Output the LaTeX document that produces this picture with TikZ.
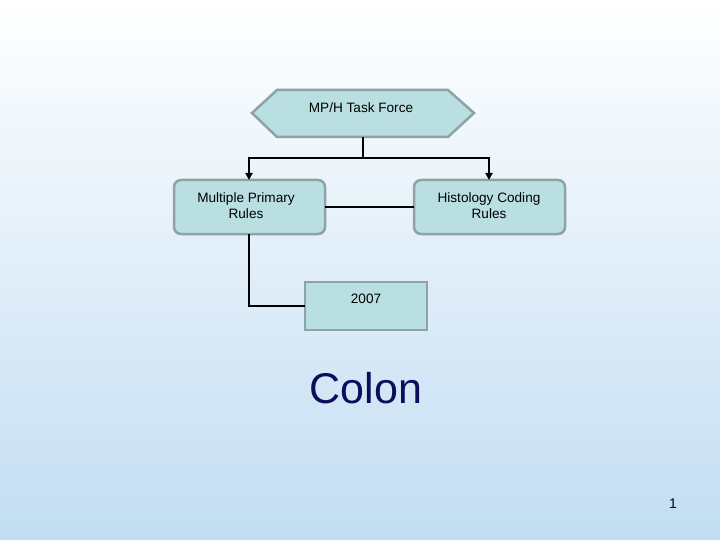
\documentclass[tikz,border=0pt]{standalone}
\usepackage{fontspec}
\setmainfont{Liberation Sans}
\usetikzlibrary{arrows.meta}
\definecolor{boxfill}{HTML}{BADFE2}
\definecolor{boxline}{HTML}{8DA3A6}
\definecolor{bgtop}{HTML}{FFFFFF}
\definecolor{bgbot}{HTML}{C2DDF2}
\definecolor{navy}{HTML}{0D0D5E}
\tikzset{
  shapebox/.style={draw=boxline, fill=boxfill, line width=2.5pt},
  conn/.style={draw=black, line width=2.4pt},
  lbl/.style={font=\fontsize{13.6}{16}\selectfont, align=center, inner sep=0pt},
}
\begin{document}
\begin{tikzpicture}[x=1pt,y=-1pt]
\shade[top color=bgtop, bottom color=bgbot] (0,0) rectangle (720,540);
\useasboundingbox (0,0) rectangle (720,540);
% hexagon
\draw[shapebox, line join=miter] (252,113) -- (277,90) -- (448,90) -- (474,113) -- (448,137) -- (277,137) -- cycle;
\node[lbl] (tf) at (361,108) {MP/H Task Force};
\coordinate (hexb) at (363,137);
% boxes
\draw[shapebox, rounded corners=7pt] (174,180) rectangle (325,234);
\node[lbl] (mp) at (246,206) {Multiple Primary\\Rules};
\draw[shapebox, rounded corners=7pt] (414,180) rectangle (565,234);
\node[lbl] (hc) at (489,206) {Histology Coding\\Rules};
\draw[shapebox] (305,282) rectangle (427,330);
\node[lbl] (y) at (366,299) {2007};
% connectors
\coordinate (j) at (363,158);
\coordinate (mpt) at (249,180);
\coordinate (hct) at (489,180);
\draw[conn] (hexb) -- (j);
\draw[conn, -{Triangle[length=7pt,width=7pt]}] (j) -| (mpt);
\draw[conn, -{Triangle[length=7pt,width=7pt]}] (j) -| (hct);
\draw[conn] (325,207) -- (414,207);
\draw[conn] (249,234) |- (305,306);
% title
\node[font=\fontsize{43}{50}\selectfont, text=navy, inner sep=0pt] (colon) at (366,388) {Colon};
\node[font=\fontsize{14}{16}\selectfont, inner sep=0pt] (pg) at (673,504) {1};
\end{tikzpicture}
\end{document}
